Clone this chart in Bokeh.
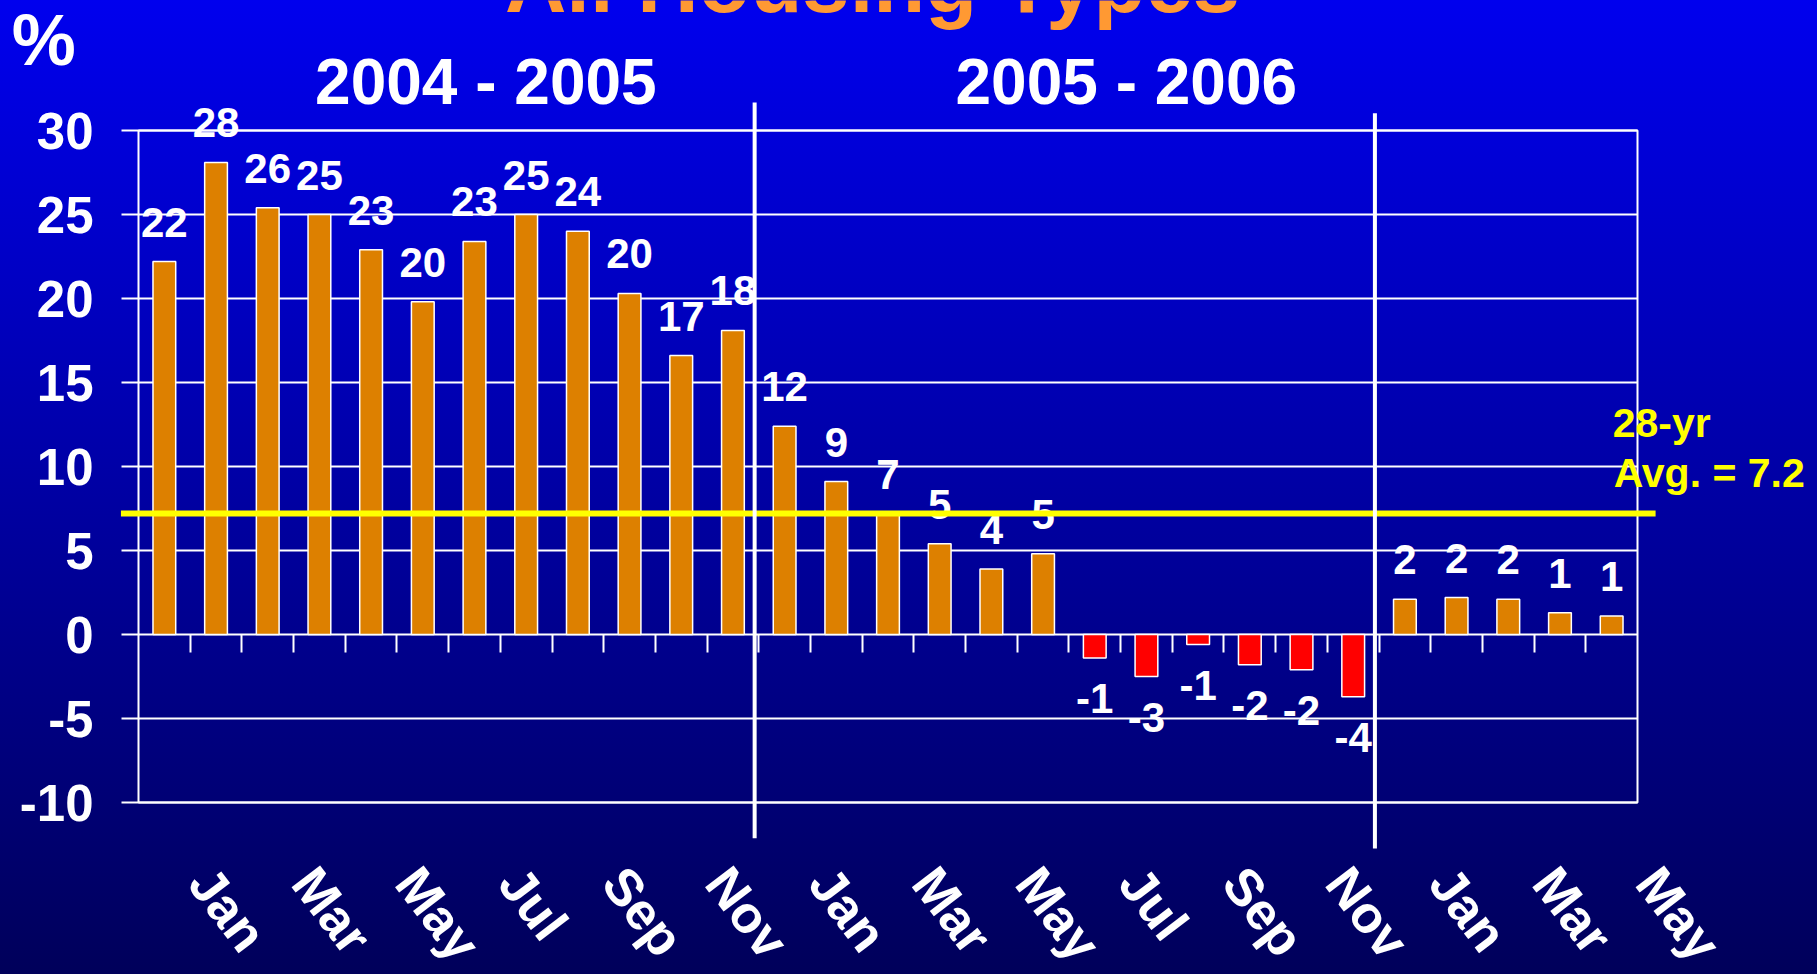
from bokeh.plotting import figure
from bokeh.models import (FixedTicker, LinearAxis, LabelSet, Arrow, ColumnDataSource,
                          GlobalInlineStyleSheet, Range1d, BoxAnnotation)
from bokeh.core.properties import value
from bokeh.embed import file_html
from bokeh.resources import INLINE

# ---------------- data ----------------
months = ["Jan", "Feb", "Mar", "Apr", "May", "Jun", "Jul", "Aug", "Sep", "Oct", "Nov", "Dec"]
period_a_months = months          # 2004 - 2005
period_b_months = months          # 2005 - 2006
period_c_months = months[:5]      # 2006
period_titles = ["2004 - 2005", "2005 - 2006"]

changes = [22.2, 28.1, 25.4, 25.0, 22.9, 19.8, 23.4, 25.0, 24.0, 20.3, 16.6, 18.1,
           12.4, 9.1, 7.2, 5.4, 3.9, 4.8, -1.4, -2.5, -0.6, -1.8, -2.1, -3.7,
           2.1, 2.2, 2.1, 1.3, 1.1]
change_labels = ["22", "28", "26", "25", "23", "20", "23", "25", "24", "20", "17", "18",
                 "12", "9", "7", "5", "4", "5", "-1", "-3", "-1", "-2", "-2", "-4",
                 "2", "2", "2", "1", "1"]
avg_28yr = 7.2
avg_text = ["28-yr", "Avg. = 7.2"]
y_ticks = [-10, -5, 0, 5, 10, 15, 20, 25, 30]
y_tick_labels = ["-10", "-5", "0", "5", "10", "15", "20", "25", "30"]
title_text = "All Housing Types"
unit_text = "%"

# ---------------- layout ----------------
W, H = 1817, 974
PLOT_L, PLOT_R, PLOT_T, PLOT_B = 138, 180, 130, 172   # canvas px around the gridded box
FONT = "Liberation Sans"

categories = period_a_months + period_b_months + period_c_months
n = len(categories)
xs = list(range(1, n + 1))
y_lo, y_hi = y_ticks[0], y_ticks[-1]

px_x = (W - PLOT_L - PLOT_R) / n
px_y = (H - PLOT_T - PLOT_B) / (y_hi - y_lo)
x_range = Range1d(0.5 - PLOT_L / px_x, n + 0.5 + PLOT_R / px_x)
y_range = Range1d(y_lo - PLOT_B / px_y, y_hi + PLOT_T / px_y)

pos_color = "#DD8000"
neg_color = "#FF0000"
colors = [pos_color if v >= 0 else neg_color for v in changes]
label_off = [25 if v >= 0 else -55 for v in changes]

src = ColumnDataSource(dict(x=xs, top=changes, label=change_labels, color=colors, yoff=label_off))
grid_src = ColumnDataSource(dict(y=y_ticks, x0=[0.5] * len(y_ticks), x1=[n + 0.5] * len(y_ticks)))

p = figure(width=W, height=H, x_range=x_range, y_range=y_range,
           x_axis_type=None, y_axis_type=None, output_backend="svg", toolbar_location=None,
           min_border=0)
p.grid.visible = False
p.background_fill_alpha = 0
p.border_fill_alpha = 0
p.outline_line_color = None
p.stylesheets = [GlobalInlineStyleSheet(css="""
html { height: 100%; background: linear-gradient(to bottom, #0000EE 0%, #00005A 100%); }
body { background: transparent; }
""")]

# horizontal grid lines at the y ticks
p.segment(x0="x0", x1="x1", y0="y", y1="y", line_color="white", line_width=2, source=grid_src)

# y axis on the left edge of the box
y_axis = LinearAxis(fixed_location=0.5, bounds=(y_lo, y_hi), ticker=FixedTicker(ticks=y_ticks),
                    major_label_overrides=dict(zip(y_ticks, y_tick_labels)),
                    axis_line_color=None, major_tick_out=17, major_tick_in=0,
                    major_tick_line_color="white", major_tick_line_width=2,
                    minor_tick_line_color=None, major_label_standoff=28,
                    major_label_text_color="white", major_label_text_font=FONT,
                    major_label_text_font_style="bold", major_label_text_font_size="51px")
p.add_layout(y_axis, "left")

# category boundary ticks hanging from the zero line
tick_axis = LinearAxis(fixed_location=0, ticker=FixedTicker(ticks=[x + 0.5 for x in xs[:-1]]),
                       major_tick_out=18, major_tick_in=0, major_tick_line_color="white",
                       major_tick_line_width=2, minor_tick_line_color=None, axis_line_color=None,
                       major_label_text_color=None)
p.add_layout(tick_axis, "below")

# month labels (every second month)
label_ticks = [round(x + 0.7, 2) for x in xs[::2]]
overrides = {t: categories[x - 1] for t, x in zip(label_ticks, xs[::2])}
label_axis = LinearAxis(fixed_location=y_lo, ticker=FixedTicker(ticks=label_ticks),
                        major_label_overrides=overrides, major_tick_line_color=None,
                        minor_tick_line_color=None, axis_line_color=None,
                        major_tick_out=0, major_tick_in=0, major_label_standoff=71,
                        major_label_orientation=-0.92, major_label_text_color="white",
                        major_label_text_font=FONT, major_label_text_font_style="bold",
                        major_label_text_font_size="52px")
p.add_layout(label_axis, "below")

# bars
p.vbar(x="x", top="top", bottom=0, width=0.44, fill_color="color", line_color="white",
       line_width=1.5, source=src)

# box outline
p.add_layout(BoxAnnotation(left=0.5, right=n + 0.5, bottom=y_lo, top=y_hi, fill_alpha=0,
                           line_color="white", line_alpha=1.0, line_width=2))

# value labels
p.add_layout(LabelSet(x="x", y="top", text="label", y_offset="yoff", source=src,
                      text_align="center", text_baseline="alphabetic", text_color="white",
                      text_font=value(FONT), text_font_style="bold", text_font_size="42px"))

# 28-year average line
p.add_layout(Arrow(end=None, x_start=0.16, x_end=n + 0.85, y_start=avg_28yr, y_end=avg_28yr,
                   line_color="#FFFF00", line_width=6))

# period separators
sep_a = len(period_a_months) + 0.42
sep_b = len(period_a_months) + len(period_b_months) + 0.42
p.add_layout(Arrow(end=None, x_start=sep_a, x_end=sep_a, y_start=31.67, y_end=-12.13,
                   line_color="white", line_width=4))
p.add_layout(Arrow(end=None, x_start=sep_b, x_end=sep_b, y_start=31.03, y_end=-12.74,
                   line_color="white", line_width=4))

# free texts (title, unit, period headings, average note)
text_src = ColumnDataSource(dict(
    x=[14.70, -1.95, 7.22, 19.61, 29.02, 29.04],
    y=[37.08, 33.87, 31.60, 31.60, 11.74, 8.77],
    text=[title_text, unit_text, period_titles[0], period_titles[1], avg_text[0], avg_text[1]],
    size=["85px", "72px", "64px", "64px", "41px", "41px"],
    color=["#FF9933", "white", "white", "white", "#FFFF00", "#FFFF00"],
    align=["center", "left", "center", "center", "left", "left"],
))
p.add_layout(LabelSet(x="x", y="y", text="text", source=text_src, text_align="align",
                      text_baseline="alphabetic", text_color="color", text_font=value(FONT),
                      text_font_style="bold", text_font_size="size"))

open("out.html", "w").write(file_html(p, INLINE))
